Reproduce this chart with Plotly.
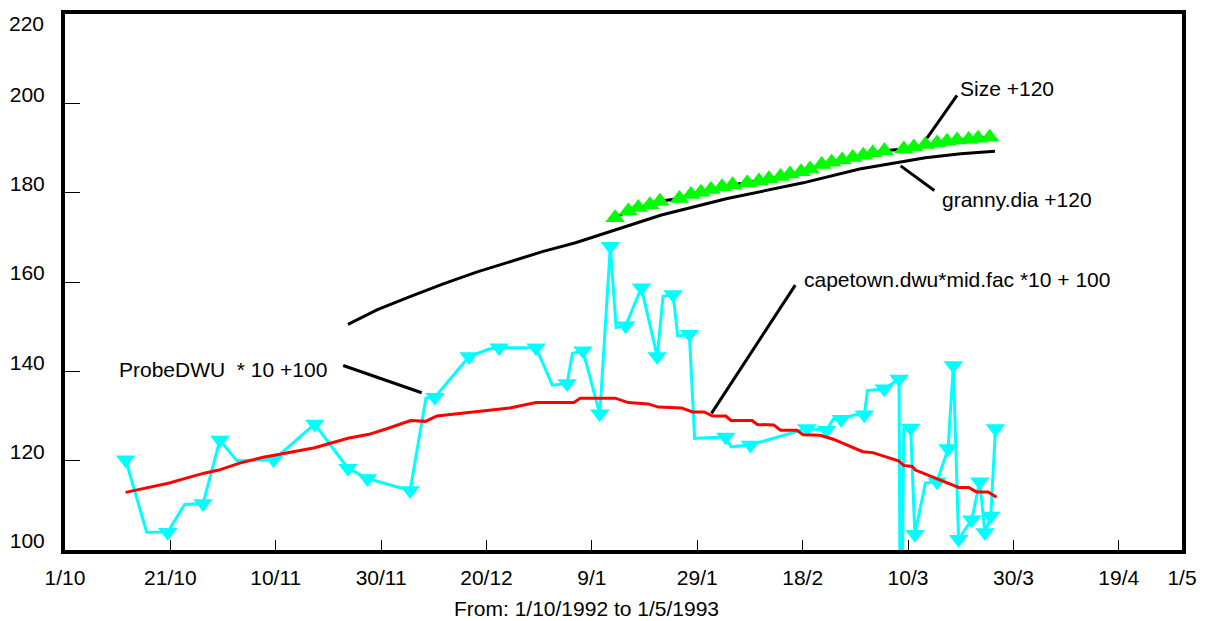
import plotly.graph_objects as go

# x values are days since 1/10/1992
tick_days = [0, 20, 40, 60, 80, 100, 120, 140, 160, 180, 200, 212]
tick_labels = ["1/10", "21/10", "10/11", "30/11", "20/12", "9/1", "29/1", "18/2",
               "10/3", "30/3", "19/4", "1/5"]
y_ticks = [100, 120, 140, 160, 180, 200, 220]

probe_days = [11.5, 15.5, 19.5, 22.7, 26.2, 29.4, 32.6, 39.6, 47.4, 53.7, 57.4, 65.5, 68.5,
              70.2, 76.7, 80.5, 82.4, 89.4, 92.5, 95.3, 96.3, 98.3, 101.5, 103.5, 104.6,
              106.4, 109.4, 112.4, 113.5, 115.4, 116.3, 118.5, 119.5, 125.4, 126.4, 130.1,
              140.8, 144.5, 145.8, 147.3, 149.8, 151.7, 152.3, 155.5, 158.3, 158.6, 159.2,
              160.5, 161.3, 163.3, 165.5, 167.6, 168.6, 169.6, 172.1, 173.6, 174.6, 175.7,
              176.6]
probe_vals = [120.2, 104.0, 104.0, 110.2, 110.4, 124.6, 120.0, 120.2, 128.2, 118.3, 116.0,
              113.3, 134.0, 134.2, 143.3, 145.0, 145.3, 145.3, 136.9, 137.3, 144.0, 144.6,
              130.5, 168.0, 149.8, 150.2, 158.7, 143.3, 156.8, 157.2, 147.9, 148.3, 125.0,
              125.3, 123.1, 123.5, 127.2, 126.8, 129.3, 129.3, 130.2, 130.3, 135.7, 136.1,
              138.3, 60.0, 127.2, 127.3, 103.5, 115.0, 115.3, 122.7, 141.3, 102.4, 106.8,
              115.3, 103.9, 107.6, 127.2]
probe_unmarked = [1, 3, 6, 12, 15, 18, 20, 24, 28, 30, 32, 34, 38, 40, 42, 45, 46, 49]

cape_days = [11.5, 19.8, 23.0, 26.4, 29.2, 33.0, 37.4, 47.4, 53.7, 57.7, 61.2, 65.6, 68.4,
             70.6, 75.3, 84.4, 89.4, 96.6, 97.8, 104.4, 106.9, 110.7, 112.6, 117.0, 119.1,
             121.3, 122.9, 125.4, 126.4, 130.4, 131.4, 134.5, 135.8, 138.9, 140.1, 143.3,
             145.8, 151.4, 153.3, 158.3, 159.2, 160.8, 161.4, 167.7, 169.6, 171.5, 173.0,
             175.2, 176.8]
cape_vals = [112.9, 115.0, 116.1, 117.2, 117.9, 119.4, 120.7, 122.9, 125.0, 125.9, 127.2,
             129.0, 128.8, 130.0, 130.6, 131.8, 133.0, 133.0, 134.0, 134.0, 133.0, 132.7,
             132.0, 131.8, 130.9, 130.9, 130.0, 130.0, 129.0, 129.0, 128.1, 128.0, 126.8,
             126.8, 125.8, 125.7, 124.8, 122.0, 121.8, 119.9, 118.9, 118.7, 117.9, 115.0,
             114.0, 114.0, 113.0, 113.0, 111.8]

granny_days = [53.7, 59.3, 65.6, 71.8, 78.1, 84.4, 90.6, 96.9, 102.5, 113.2, 125.7, 140.1,
               150.8, 163.3, 170.0, 176.5]
granny_vals = [150.5, 153.8, 156.8, 159.6, 162.2, 164.6, 166.8, 168.8, 170.9, 175.0, 178.7,
               182.2, 185.3, 187.8, 188.7, 189.3]

size_days = [104.4, 106.9, 108.8, 111.0, 112.9, 116.6, 118.8, 120.7, 122.6, 124.7, 126.7,
             129.5, 131.7, 133.6, 135.8, 137.6, 139.7, 141.4, 143.6, 145.5, 147.5, 149.5,
             151.5, 153.3, 155.5, 159.2, 161.1, 163.3, 165.5, 167.4, 169.3, 171.5, 173.3,
             175.5]
size_vals = [174.4, 175.9, 176.7, 177.3, 178.1, 178.7, 179.6, 180.1, 180.7, 181.3, 181.8,
             182.2, 182.6, 183.1, 183.6, 184.2, 184.7, 185.3, 186.3, 186.8, 187.3, 187.9,
             188.4, 188.9, 189.4, 189.8, 190.2, 190.8, 191.1, 191.5, 191.8, 191.9, 192.2,
             192.4]

# label text, label anchor (day, value), pointer line (day0, v0, day1, v1)
labels = ["Size +120", "granny.dia +120", "capetown.dwu*mid.fac *10 + 100",
          "ProbeDWU\u00a0\u00a0* 10 +100"]
label_pos = [(169.4, 203.4), (166.0, 178.5), (139.8, 160.5), (9.9, 140.5)]
pointers = [(169.3, 201.8, 163.6, 192.2), (165.0, 180.5, 158.6, 186.0),
            (138.6, 159.3, 122.7, 130.6), (52.8, 141.3, 67.7, 135.2)]

FONT = "Liberation Sans, Arial, sans-serif"
marked = [i for i in range(len(probe_days)) if i not in probe_unmarked]

fig = go.Figure()
fig.add_trace(go.Scatter(x=probe_days, y=probe_vals, mode="lines",
                         line=dict(color="#00FFFF", width=3), showlegend=False))
fig.add_trace(go.Scatter(x=[probe_days[i] for i in marked], y=[probe_vals[i] for i in marked],
                         mode="markers", marker=dict(symbol="triangle-down", size=17,
                                                     color="#00FFFF", line=dict(width=0)),
                         showlegend=False))
fig.add_trace(go.Scatter(x=cape_days, y=cape_vals, mode="lines",
                         line=dict(color="#FF0000", width=3), showlegend=False))
fig.add_trace(go.Scatter(x=granny_days, y=granny_vals, mode="lines",
                         line=dict(color="black", width=3), showlegend=False))
fig.add_trace(go.Scatter(x=size_days, y=size_vals, mode="lines+markers",
                         line=dict(color="black", width=3),
                         marker=dict(symbol="triangle-up", size=17, color="#00FF00",
                                     line=dict(width=0)),
                         showlegend=False))

for (x0, y0, x1, y1) in pointers:
    fig.add_shape(type="line", xref="x", yref="y", x0=x0, y0=y0, x1=x1, y1=y1,
                  line=dict(color="black", width=3))
for txt, (lx, ly) in zip(labels, label_pos):
    fig.add_annotation(x=lx, y=ly, xref="x", yref="y", text=txt, showarrow=False,
                       xanchor="left", yanchor="middle",
                       font=dict(family=FONT, size=21, color="black"))

# top y tick label (Plotly drops the label at the very top edge of the range)
fig.add_annotation(x=0, y=y_ticks[-1], xref="paper", yref="y", text=str(y_ticks[-1]),
                   showarrow=False, xanchor="right", yanchor="middle",
                   xshift=-19, yshift=-9,
                   font=dict(family=FONT, size=21, color="black"))

fig.add_annotation(x=0.4667, y=-0.109, xref="paper", yref="paper",
                   text="From: 1/10/1992 to 1/5/1993", showarrow=False,
                   xanchor="center", yanchor="middle",
                   font=dict(family=FONT, size=21, color="black"))

fig.update_xaxes(range=[0, 212], tickmode="array", tickvals=tick_days, ticktext=tick_labels,
                 ticks="inside", ticklen=10, tickwidth=1, tickcolor="black",
                 showline=True, linewidth=4, linecolor="black", mirror=True,
                 showgrid=False, zeroline=False, ticklabelstandoff=6,
                 tickfont=dict(family=FONT, size=21, color="black"))
fig.update_yaxes(range=[100, 220.001], tickmode="array", tickvals=y_ticks,
                 ticks="inside", ticklen=15, tickwidth=1, tickcolor="black",
                 showline=True, linewidth=4, linecolor="black", mirror=True,
                 showgrid=False, zeroline=False, ticklabelshift=-9, ticklabelstandoff=12,
                 tickfont=dict(family=FONT, size=21, color="black"))
fig.update_layout(width=1207, height=621, margin=dict(l=65, r=15, t=10, b=71),
                  plot_bgcolor="white", paper_bgcolor="white", showlegend=False)

fig.write_html("out.html")
